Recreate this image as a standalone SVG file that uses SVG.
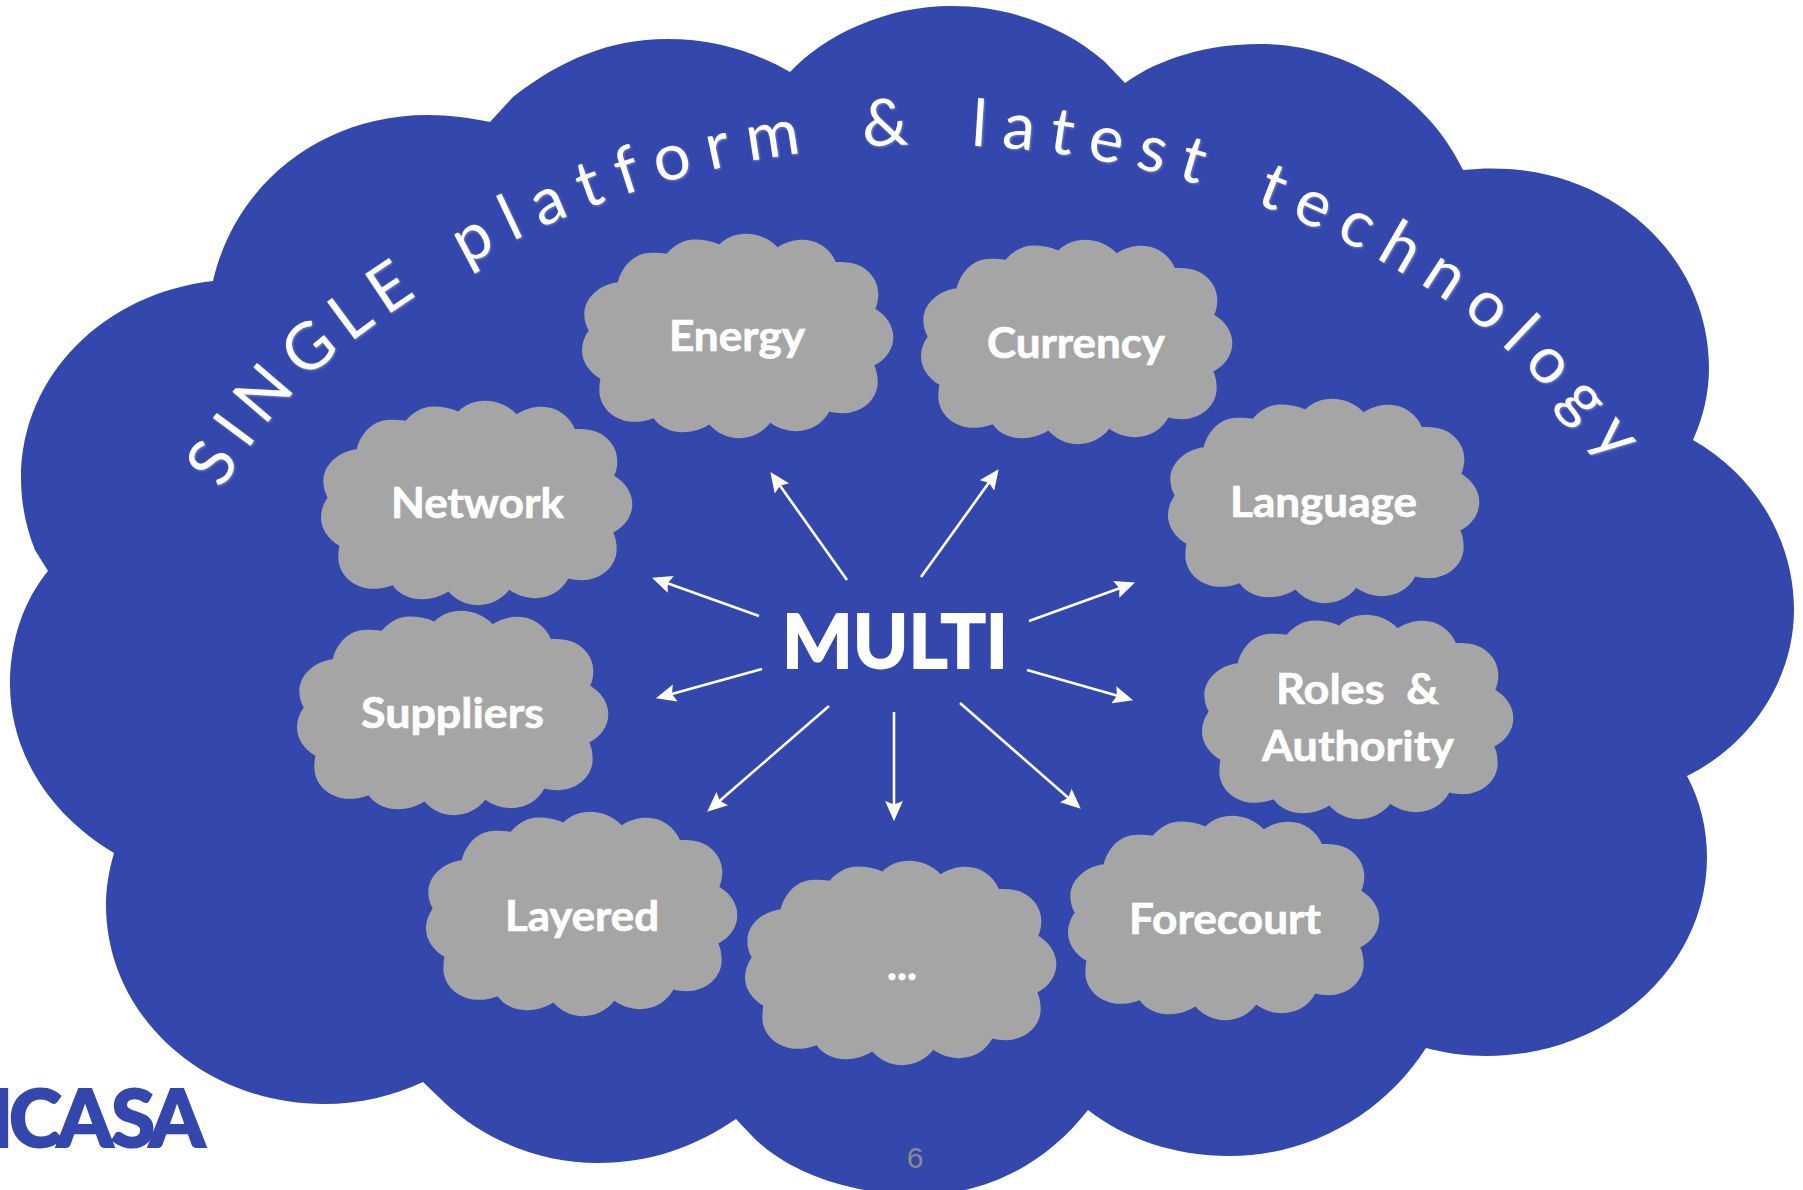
<svg xmlns="http://www.w3.org/2000/svg" xmlns:xlink="http://www.w3.org/1999/xlink" width="1803" height="1190" viewBox="0 0 1803 1190">
<style>
.cloud{fill:#a5a5a5}
.lbl{font-family:Lato,"Liberation Sans",sans-serif;font-weight:700;font-size:42px;fill:#fff;stroke:#fff;stroke-width:.7}
.arrow{stroke:#fff;stroke-width:2.6;fill:none;marker-end:url(#head)}
</style>
<defs>
<marker id="head" markerUnits="userSpaceOnUse" markerWidth="20" markerHeight="18" viewBox="0 0 18 16" refX="12.5" refY="8" orient="auto">
<path d="M0,0 L18,8 L0,16 L3,8 Z" fill="#fff"/>
</marker>
<filter id="glow" x="-5%" y="-5%" width="110%" height="110%"><feDropShadow dx="1" dy="1" stdDeviation="1.2" flood-color="#c8c8d8" flood-opacity="0.45"/></filter>
<path id="smallcloud" class="cloud" transform="translate(561,220.5) scale(.33333)" d="M170,185 C185,130 225,97 270,97 C287,97 302,98 317,100 C340,72 370,57 400,57 C428,57 453,62 475,72 C495,52 525,40 555,40 C592,40 625,55 650,80 C672,66 698,58 725,58 C770,58 808,85 825,125 C830,124 840,125 850,125 C905,125 952,167 952,220 C952,236 949,251 943,265 C975,285 997,315 997,350 C997,385 975,417 940,435 C947,450 950,467 950,485 C950,537 903,578 845,578 C830,578 817,576 805,573 C785,610 748,632 705,632 C678,632 650,623 628,607 C605,636 572,653 535,653 C500,653 468,638 445,612 C422,627 395,635 365,635 C326,635 295,618 278,593 C260,600 240,604 220,604 C162,604 115,562 115,510 C115,498 116,486 118,475 C85,455 63,425 63,390 C63,368 70,348 83,330 C74,315 70,298 70,280 C70,233 113,193 170,185 Z"/>
<path id="arc" d="M222,490 Q250,440 300,385 A940,940 0 0 1 1450,303 Q1545,370 1680,550"/>
</defs>
<rect width="1803" height="1190" fill="#fff"/>
<g id="platform">
<path fill="#3347ad" d="M790,72 C825,35 885,6 952,6 C1010,6 1065,27 1104,61 L1125,83 C1160,58 1208,44 1259,44 C1352,44 1430,100 1463,170 C1600,155 1709,250 1709,368 C1709,393 1703,418 1693,440 C1755,475 1794,540 1794,610 C1794,680 1750,745 1687,776 C1700,800 1707,828 1707,857 C1707,967 1608,1056 1487,1056 C1465,1056 1445,1053 1426,1048 C1385,1112 1312,1156 1230,1156 C1175,1156 1125,1139 1088,1110 C1045,1165 985,1195 920,1195 C855,1195 790,1175 752,1136 L736,1119 C695,1147 650,1163 598,1163 C540,1163 485,1140 446,1104 L423,1082 C393,1096 360,1104 324,1104 C203,1104 106,1015 106,905 C106,887 109,870 114,853 C50,815 10,753 10,684 C10,640 24,600 48,571 L35,550 C26,528 21,503 21,478 C21,375 105,293 213,281 C235,185 320,115 428,115 C450,115 470,118 490,122 L513,97 C560,60 610,39 667,39 C715,39 755,52 790,72 Z"/>
<text font-family="Lato,'Liberation Sans',sans-serif" font-size="65" font-weight="400" fill="#fff" word-spacing="12" filter="url(#glow)"><textPath xlink:href="#arc" href="#arc"><tspan letter-spacing="11.5">SINGLE</tspan><tspan letter-spacing="16.3"> platform &amp; </tspan><tspan letter-spacing="15.2">latest </tspan><tspan letter-spacing="14.5">technology</tspan></textPath></text>
</g>
<g id="node-energy"><use href="#smallcloud"/><text class="lbl" x="669" y="351" textLength="136" lengthAdjust="spacingAndGlyphs">Energy</text></g>
<g id="node-currency"><use href="#smallcloud" transform="translate(339,6)"/><text class="lbl" x="987" y="358" textLength="178" lengthAdjust="spacingAndGlyphs">Currency</text></g>
<g id="node-network"><use href="#smallcloud" transform="translate(-261,167)"/><text class="lbl" x="391" y="518" textLength="173" lengthAdjust="spacingAndGlyphs">Network</text></g>
<g id="node-language"><use href="#smallcloud" transform="translate(586,165)"/><text class="lbl" x="1230" y="517" textLength="187" lengthAdjust="spacingAndGlyphs">Language</text></g>
<g id="node-suppliers"><use href="#smallcloud" transform="translate(-285,377)"/><text class="lbl" x="361" y="728" textLength="183" lengthAdjust="spacingAndGlyphs">Suppliers</text></g>
<g id="node-roles"><use href="#smallcloud" transform="translate(620,381)"/><text class="lbl" x="1276" y="704" textLength="163" lengthAdjust="spacingAndGlyphs" xml:space="preserve">Roles  &amp;</text><text class="lbl" x="1262" y="761" textLength="192" lengthAdjust="spacingAndGlyphs">Authority</text></g>
<g id="node-layered"><use href="#smallcloud" transform="translate(-156,578)"/><text class="lbl" x="505" y="931" textLength="154" lengthAdjust="spacingAndGlyphs">Layered</text></g>
<g id="node-more"><use href="#smallcloud" transform="translate(163,627)"/><text class="lbl" x="887" y="980" textLength="30" lengthAdjust="spacingAndGlyphs">...</text></g>
<g id="node-forecourt"><use href="#smallcloud" transform="translate(486,582)"/><text class="lbl" x="1129" y="934" textLength="192" lengthAdjust="spacingAndGlyphs">Forecourt</text></g>
<g id="node-multi"><text class="lbl" style="font-size:75px;stroke-width:2" x="782" y="668" textLength="226" lengthAdjust="spacingAndGlyphs">MULTI</text></g>
<g id="connectors">
<path class="arrow" d="M759,616 L657.7,579.7"/>
<path class="arrow" d="M1029,621 L1129.3,584.7"/>
<path class="arrow" d="M762,669 L661.8,696.7"/>
<path class="arrow" d="M1027,670 L1127.2,698.6"/>
<path class="arrow" d="M829,706 L711.8,807.7"/>
<path class="arrow" d="M894,712 L894,815"/>
<path class="arrow" d="M960,703 L1076.2,804.7"/>
<path class="arrow" d="M847,580 L773.9,477.1"/>
<path class="arrow" d="M921,577 L995.1,474.1"/>
</g>
<g id="logo"><text x="-11 9 57 111 149" y="1147" font-family="Lato,'Liberation Sans',sans-serif" font-weight="900" font-size="80" fill="#3347ad" stroke="#3347ad" stroke-width="2">ICASA</text></g>
<g id="page"><text x="915" y="1168" text-anchor="middle" font-family="'Liberation Sans',sans-serif" font-size="30" fill="#8a8a8a">6</text></g>
</svg>
